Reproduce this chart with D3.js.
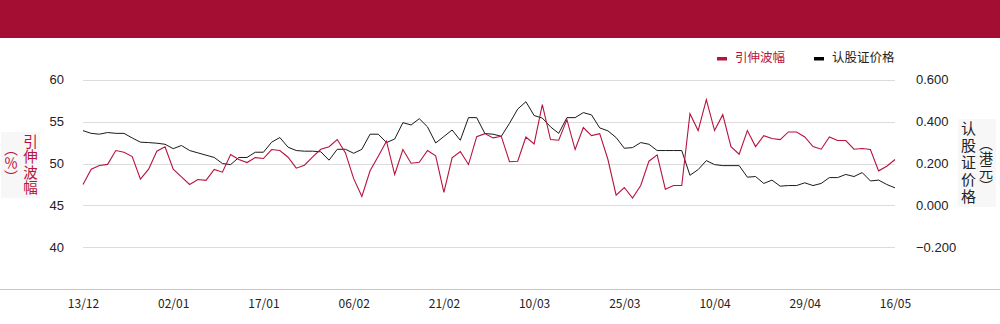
<!DOCTYPE html>
<html>
<head>
<meta charset="utf-8">
<script src="https://cdn.jsdelivr.net/npm/d3@7/dist/d3.min.js"></script>
<style>
  html, body { margin: 0; padding: 0; background: #fff; }
  svg { display: block; }
</style>
</head>
<body>
<svg id="chart" width="1000" height="324"></svg>
<script>
// ---- Data ----
const dates = [
  "13/12","16/12","17/12","18/12","19/12","20/12","23/12","24/12","27/12","30/12","31/12",
  "02/01","03/01","06/01","07/01","08/01","09/01","10/01","13/01","14/01","15/01","16/01","17/01",
  "20/01","21/01","22/01","23/01","24/01","27/01","28/01",
  "03/02","04/02","05/02","06/02","07/02","10/02","11/02","12/02","13/02","14/02",
  "17/02","18/02","19/02","20/02","21/02","24/02","25/02","26/02","27/02","28/02",
  "03/03","04/03","05/03","06/03","07/03","10/03","11/03","12/03","13/03","14/03",
  "17/03","18/03","19/03","20/03","21/03","24/03","25/03","26/03","27/03","28/03","31/03",
  "01/04","02/04","03/04","07/04","08/04","09/04","10/04","11/04","14/04","15/04","16/04","17/04",
  "22/04","23/04","24/04","25/04","28/04","29/04","30/04",
  "02/05","06/05","07/05","08/05","09/05","12/05","13/05","14/05","15/05","16/05"
];
const amplitude = [
  47.5, 49.33, 49.76, 49.9, 51.55, 51.35, 50.83, 48.13, 49.33, 51.47,
  52.0, 49.33, 48.4, 47.5, 48.1, 48.0, 49.3, 48.97, 51.07, 50.48,
  50.12, 50.71, 50.6, 51.67, 51.55, 50.75, 49.45, 49.8, 50.8, 51.7,
  52.0, 52.86, 51.27, 48.2, 46.07, 49.13, 50.87, 52.66, 48.69, 51.67,
  50.04, 50.16, 51.55, 50.91, 46.55, 50.67, 51.43, 49.88, 53.21, 53.57,
  53.06, 53.25, 50.22, 50.28, 53.17, 52.34, 57.02, 52.86, 52.78, 55.24,
  51.67, 54.29, 53.33, 53.57, 50.48, 46.23, 47.14, 45.87, 47.38, 50.28,
  51.03, 46.94, 47.38, 47.38, 55.95, 53.93, 57.62, 53.93, 55.83, 52.02,
  51.11, 53.93, 52.02, 53.33, 52.98, 52.86, 53.77, 53.77, 53.17, 52.02,
  51.71, 53.17, 52.74, 52.74, 51.71, 51.79, 51.67, 49.13, 49.68, 50.48
];
const warrantPrice = [
  0.357, 0.344, 0.340, 0.348, 0.344, 0.344, 0.322, 0.302, 0.300, 0.297,
  0.292, 0.271, 0.286, 0.262, 0.251, 0.240, 0.229, 0.200, 0.195, 0.229,
  0.229, 0.254, 0.254, 0.302, 0.324, 0.278, 0.262, 0.259, 0.259, 0.256,
  0.216, 0.268, 0.268, 0.249, 0.268, 0.340, 0.340, 0.300, 0.317, 0.395,
  0.384, 0.414, 0.375, 0.298, 0.329, 0.360, 0.311, 0.419, 0.419, 0.343,
  0.340, 0.330, 0.392, 0.460, 0.495, 0.429, 0.417, 0.375, 0.344, 0.419,
  0.419, 0.443, 0.432, 0.370, 0.356, 0.324, 0.273, 0.276, 0.300, 0.292,
  0.262, 0.262, 0.262, 0.262, 0.144, 0.171, 0.214, 0.195, 0.190, 0.190,
  0.190, 0.135, 0.138, 0.105, 0.121, 0.092, 0.095, 0.095, 0.108, 0.095,
  0.105, 0.133, 0.133, 0.148, 0.138, 0.157, 0.117, 0.121, 0.100, 0.084
];
const xTickLabels = ["13/12","02/01","17/01","06/02","21/02","10/03","25/03","10/04","29/04","16/05"];
const leftTicks = [40, 45, 50, 55, 60];
const rightTicks = [-0.2, 0, 0.2, 0.4, 0.6];
const seriesNames = ["引伸波幅", "认股证价格"];
const leftTitle = "引伸波幅";
const leftUnit = "（％）";
const rightTitle = "认股证价格";
const rightUnit = "（港元）";

// ---- Layout ----
const RED = "#b8123e";
const svg = d3.select("#chart");
const plotLeft = 83, plotRight = 895, plotTop = 79.7, plotBottom = 289.3;

const x = d3.scalePoint().domain(dates).range([plotLeft, plotRight]);
const yL = d3.scaleLinear().domain([35, 60]).range([plotBottom, plotTop]);
const yR = d3.scaleLinear().domain([-0.4, 0.6]).range([plotBottom, plotTop]);

// header band
svg.append("rect").attr("x", 0).attr("y", 0).attr("width", 1000).attr("height", 38).attr("fill", "#a40e32");

// gridlines
svg.append("g").selectAll("line").data(leftTicks).join("line")
  .attr("x1", plotLeft).attr("x2", plotRight)
  .attr("y1", d => Math.round(yL(d)) + 0.5).attr("y2", d => Math.round(yL(d)) + 0.5)
  .attr("stroke", "#dcdcdc").attr("stroke-width", 1);

// bottom baseline (full width)
svg.append("line")
  .attr("x1", 0).attr("x2", 1000)
  .attr("y1", Math.round(yL(35)) + 0.5).attr("y2", Math.round(yL(35)) + 0.5)
  .attr("stroke", "#c8c8c8").attr("stroke-width", 1);

// left axis
const axL = d3.axisLeft(yL).tickValues(leftTicks).tickSize(0).tickPadding(0).tickFormat(d3.format("d"));
const gL = svg.append("g").attr("transform", "translate(64,0)").call(axL);
gL.select(".domain").remove();
gL.selectAll("text").attr("font-family", "Liberation Sans, Arial, sans-serif").attr("font-size", 13).attr("fill", "#222");

// right axis
const axR = d3.axisRight(yR).tickValues(rightTicks).tickSize(0).tickPadding(0).tickFormat(d3.format(".3f"));
const gR = svg.append("g").attr("transform", "translate(916,0)").call(axR);
gR.select(".domain").remove();
gR.selectAll("text").attr("font-family", "Liberation Sans, Arial, sans-serif").attr("font-size", 13).attr("fill", "#222");

// bottom axis
const axB = d3.axisBottom(x).tickValues(xTickLabels).tickSize(0).tickPadding(0);
const gB = svg.append("g").attr("transform", "translate(0,299)").call(axB);
gB.select(".domain").remove();
gB.selectAll("text").attr("font-family", "Noto Sans CJK SC, sans-serif").attr("font-size", 12).attr("fill", "#222");

// lines
const lineL = d3.line().x((d, i) => x(dates[i])).y(d => yL(d));
const lineR = d3.line().x((d, i) => x(dates[i])).y(d => yR(d));
svg.append("path").datum(warrantPrice).attr("d", lineR).attr("fill", "none").attr("stroke", "#1a1a1a").attr("stroke-width", 1);
svg.append("path").datum(amplitude).attr("d", lineL).attr("fill", "none").attr("stroke", RED).attr("stroke-width", 1.1);

// legend
const legend = [
  { name: seriesNames[0], color: RED, tx: 735, mx: 717 },
  { name: seriesNames[1], color: "#000", tx: 832, mx: 814 }
];
const lg = svg.append("g");
legend.forEach(l => {
  lg.append("rect").attr("x", l.mx).attr("y", 57).attr("width", 10).attr("height", 3.5).attr("fill", l.color);
  lg.append("text").attr("x", l.tx).attr("y", 58.5).attr("dominant-baseline", "middle")
    .attr("font-family", "Noto Sans CJK SC, sans-serif").attr("font-size", 12.5)
    .attr("fill", l.color === "#000" ? "#222" : RED).text(l.name);
});

// axis titles (vertical writing)
function vtext(str, cx, top, size, spacing, color) {
  svg.append("text")
    .attr("x", cx).attr("y", top)
    .style("writing-mode", "vertical-rl")
    .attr("font-family", "Noto Sans CJK SC, sans-serif").attr("font-size", size)
    .attr("letter-spacing", spacing)
    .attr("fill", color).text(str);
}
svg.append("rect").attr("x", 1).attr("y", 132).attr("width", 39).attr("height", 66).attr("fill", "#f7f7f7");
svg.append("rect").attr("x", 958).attr("y", 119).attr("width", 38).attr("height", 88).attr("fill", "#f7f7f7");
vtext(leftTitle, 30.5, 134, 14.5, 1, RED);
vtext(leftUnit, 11, 142, 14, 0, RED);
vtext(rightTitle, 968.5, 120.5, 15, 2, "#222");
vtext(rightUnit, 986, 137, 14, 0, "#222");
</script>
</body>
</html>
